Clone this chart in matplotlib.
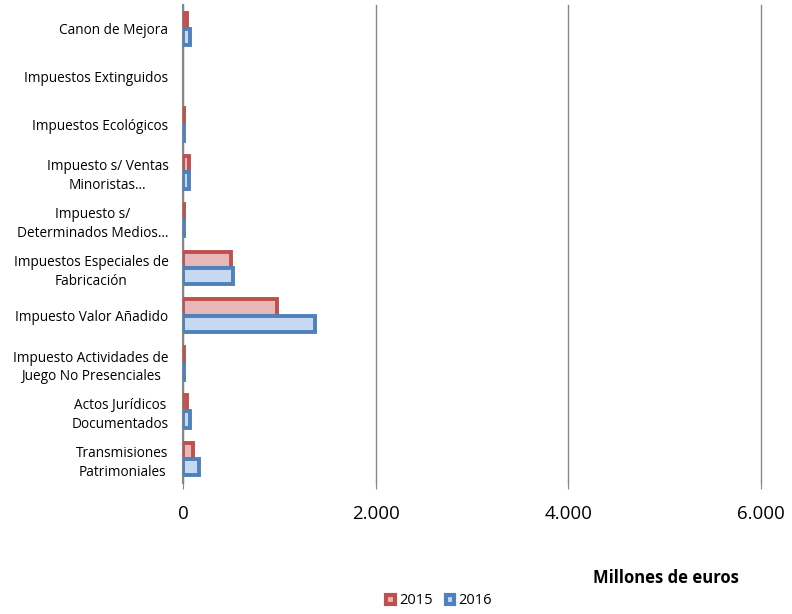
import matplotlib
matplotlib.use("Agg")
import matplotlib.pyplot as plt
import numpy as np

plt.rcParams['font.family'] = ['Open Sans', 'DejaVu Sans']

categories = [
    "Canon de Mejora",
    "Impuestos Extinguidos",
    "Impuestos Ecológicos",
    "Impuesto s/ Ventas\nMinoristas…",
    "Impuesto s/\nDeterminados Medios…",
    "Impuestos Especiales de\nFabricación",
    "Impuesto Valor Añadido",
    "Impuesto Actividades de\nJuego No Presenciales",
    "Actos Jurídicos\nDocumentados",
    "Transmisiones\nPatrimoniales",
]
values_2015 = [45, 0, 12, 60, 15, 500, 975, 6, 40, 100]
values_2016 = [75, 0, 12, 65, 15, 520, 1370, 6, 70, 170]
xticks = [0, 2000, 4000, 6000]
xtick_labels = ["0", "2.000", "4.000", "6.000"]

fig = plt.figure(figsize=(7.92, 6.14), dpi=100)
ax = fig.add_axes([183/792, 1-483/614, (761-183)/792, (483-5)/614])

n = len(categories)
y = np.arange(n)
h = 0.34
b1 = ax.barh(y - 0.17, values_2015, height=h, color='#E6B9B8', edgecolor='#C0504D', linewidth=2.8, label='2015', zorder=3)
b2 = ax.barh(y + 0.17, values_2016, height=h, color='#C6D9F1', edgecolor='#4F81BD', linewidth=2.8, label='2016', zorder=3)
for bars, vals in ((b1, values_2015), (b2, values_2016)):
    for r, v in zip(bars, vals):
        if v == 0:
            r.set_visible(False)

ax.set_ylim(n - 0.5, -0.5)
ax.set_xlim(0, 6000)
ax.set_yticks(y)
ax.set_yticklabels(categories, fontsize=9.8, multialignment='center', linespacing=1.35)
ax.tick_params(axis='y', length=0, pad=10.5)
ax.set_xticks(xticks)
ax.set_xticklabels(xtick_labels, fontsize=13.5)
ax.tick_params(axis='x', length=4, color='#878787', pad=12)
ax.xaxis.grid(True, color='#878787', linewidth=1)
for gl in ax.get_xgridlines():
    gl.set_clip_on(False)
ax.set_axisbelow(True)
for s in ['top', 'right', 'bottom']:
    ax.spines[s].set_visible(False)
ax.spines['left'].set_color('#878787')
ax.spines['left'].set_linewidth(1.5)

fig.text(666/792, 1-578/614, "Millones de euros", fontsize=12, fontweight='bold', ha='center', va='center')

leg = fig.legend(loc='center', bbox_to_anchor=(439/792, 1-601/614), ncol=2, frameon=False,
                 fontsize=10.5, handlelength=0.55, handleheight=0.55, handletextpad=0.3, columnspacing=0.9)
for p in leg.get_patches():
    p.set_linewidth(3)

fig.savefig("out.png", dpi=100)
